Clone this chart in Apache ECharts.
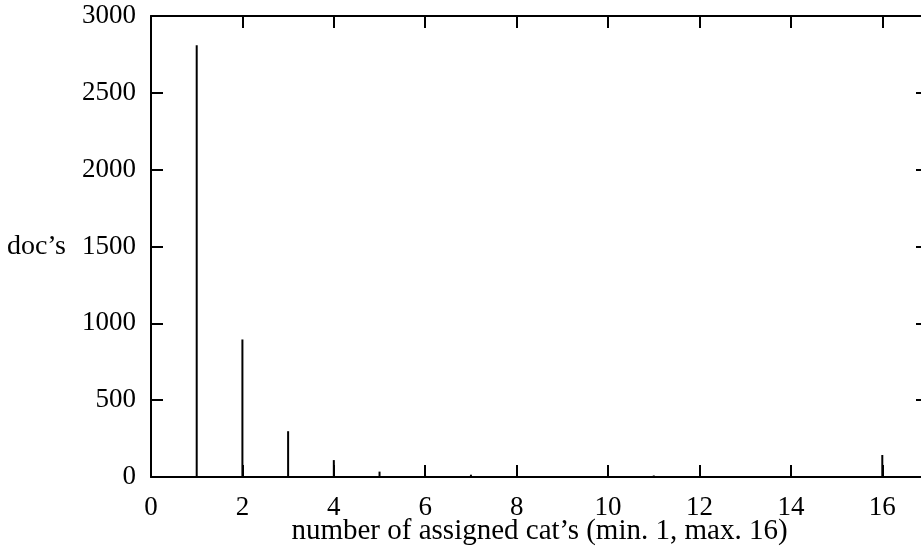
<!DOCTYPE html>
<html>
<head>
<meta charset="utf-8">
<script src="https://cdn.jsdelivr.net/npm/echarts@6/dist/echarts.min.js"></script>
<style>html,body{margin:0;padding:0;background:#fff}#c{width:921px;height:551px}</style>
</head>
<body>
<div id="c"></div>
<script>
// number of assigned categories per document
const categoryCounts = [1, 2, 3, 4, 5, 6, 7, 8, 9, 10, 11, 12, 13, 14, 15, 16];
const docCounts = [2810, 895, 298, 110, 35, 8, 15, 6, 3, 5, 10, 4, 2, 3, 2, 143];
const xTicks = [0, 2, 4, 6, 8, 10, 12, 14, 16];
const yTicks = [0, 500, 1000, 1500, 2000, 2500, 3000];

const FONT = 'Liberation Serif';
const chart = echarts.init(document.getElementById('c'), null, {renderer: 'canvas'});
const axisLine = {show: true, onZero: false, lineStyle: {color: '#000', width: 2}};
const tick = {show: true, inside: true, length: 12, lineStyle: {color: '#000', width: 2}};

chart.setOption({
  animation: false,
  backgroundColor: '#fff',
  grid: {left: 151, top: 16, width: 777, height: 461, containLabel: false, outerBoundsMode: 'none'},
  xAxis: [{
    type: 'value', min: 0, max: 17, interval: 2, position: 'bottom',
    axisLine: axisLine, axisTick: tick, splitLine: {show: false},
    axisLabel: {show: true, color: '#000', fontFamily: FONT, fontSize: 27, margin: 17,
      showMaxLabel: false,
      formatter: v => xTicks.includes(v) ? String(v) : ''},
    name: "number of assigned cat’s (min. 1, max. 16)",
    nameLocation: 'middle', nameGap: 40, nameMoveOverlap: false,
    nameTextStyle: {color: '#000', fontFamily: FONT, fontSize: 29}
  }, {
    type: 'value', min: 0, max: 17, interval: 2, position: 'top',
    axisLine: axisLine, axisTick: tick, splitLine: {show: false},
    axisLabel: {show: false}
  }],
  yAxis: [{
    type: 'value', min: 0, max: 3000, interval: 500, position: 'left',
    axisLine: axisLine, axisTick: tick, splitLine: {show: false},
    axisLabel: {show: true, color: '#000', fontFamily: FONT, fontSize: 27, margin: 15,
      formatter: v => yTicks.includes(v) ? String(v) : ''},
    name: "doc’s", nameLocation: 'middle', nameRotate: 0, nameGap: 85, nameMoveOverlap: false,
    nameTextStyle: {color: '#000', fontFamily: FONT, fontSize: 28, align: 'right', padding: [4, 0, 0, 0]}
  }, {
    type: 'value', min: 0, max: 3000, interval: 500, position: 'right',
    axisLine: axisLine, axisTick: tick, splitLine: {show: false},
    axisLabel: {show: false}
  }],
  series: [{
    type: 'bar',
    xAxisIndex: 0, yAxisIndex: 0,
    barWidth: 2,
    itemStyle: {color: '#000'},
    data: categoryCounts.map((c, i) => [c, docCounts[i]])
  }]
});
</script>
</body>
</html>
